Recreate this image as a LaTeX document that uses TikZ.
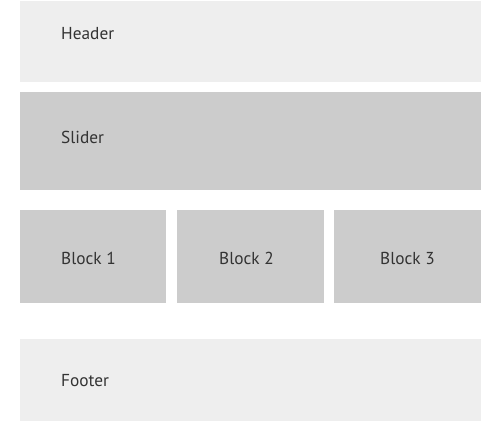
\documentclass[tikz,border=0pt]{standalone}
\usepackage{fontspec}
\setmainfont{PT Sans}
\usetikzlibrary{positioning,calc}

\definecolor{lightbox}{HTML}{EEEEEE}
\definecolor{darkbox}{HTML}{CCCCCC}
\definecolor{labeltext}{HTML}{333333}

\tikzset{
    label text/.style={anchor=west, text=labeltext, font=\fontsize{17.3}{20}\selectfont, inner sep=0pt}
}

\begin{document}
\begin{tikzpicture}[x=1pt,y=-1pt]
    \useasboundingbox (0,0) rectangle (500,441);

    % Rows
    \fill[lightbox] (19.5,1) rectangle (480.5,82);
    \node[label text] (header) at (61,34) {Header};

    \fill[darkbox] (19.5,92) rectangle (480.5,190);
    \node[label text] (slider) at (61,137) {Slider};

    % Blocks
    \fill[darkbox] (19.5,209.5) rectangle (166,303);
    \node[label text] (block1) at (61,258) {Block 1};

    \fill[darkbox] (176.5,209.5) rectangle (323.5,303);
    \node[label text] (block2) at (219,258) {Block 2};

    \fill[darkbox] (333.5,209.5) rectangle (480.5,303);
    \node[label text] (block3) at (380,258) {Block 3};

    % Footer
    \fill[lightbox] (19.5,339) rectangle (480.5,421);
    \node[label text] (footer) at (61,381) {Footer};
\end{tikzpicture}
\end{document}
